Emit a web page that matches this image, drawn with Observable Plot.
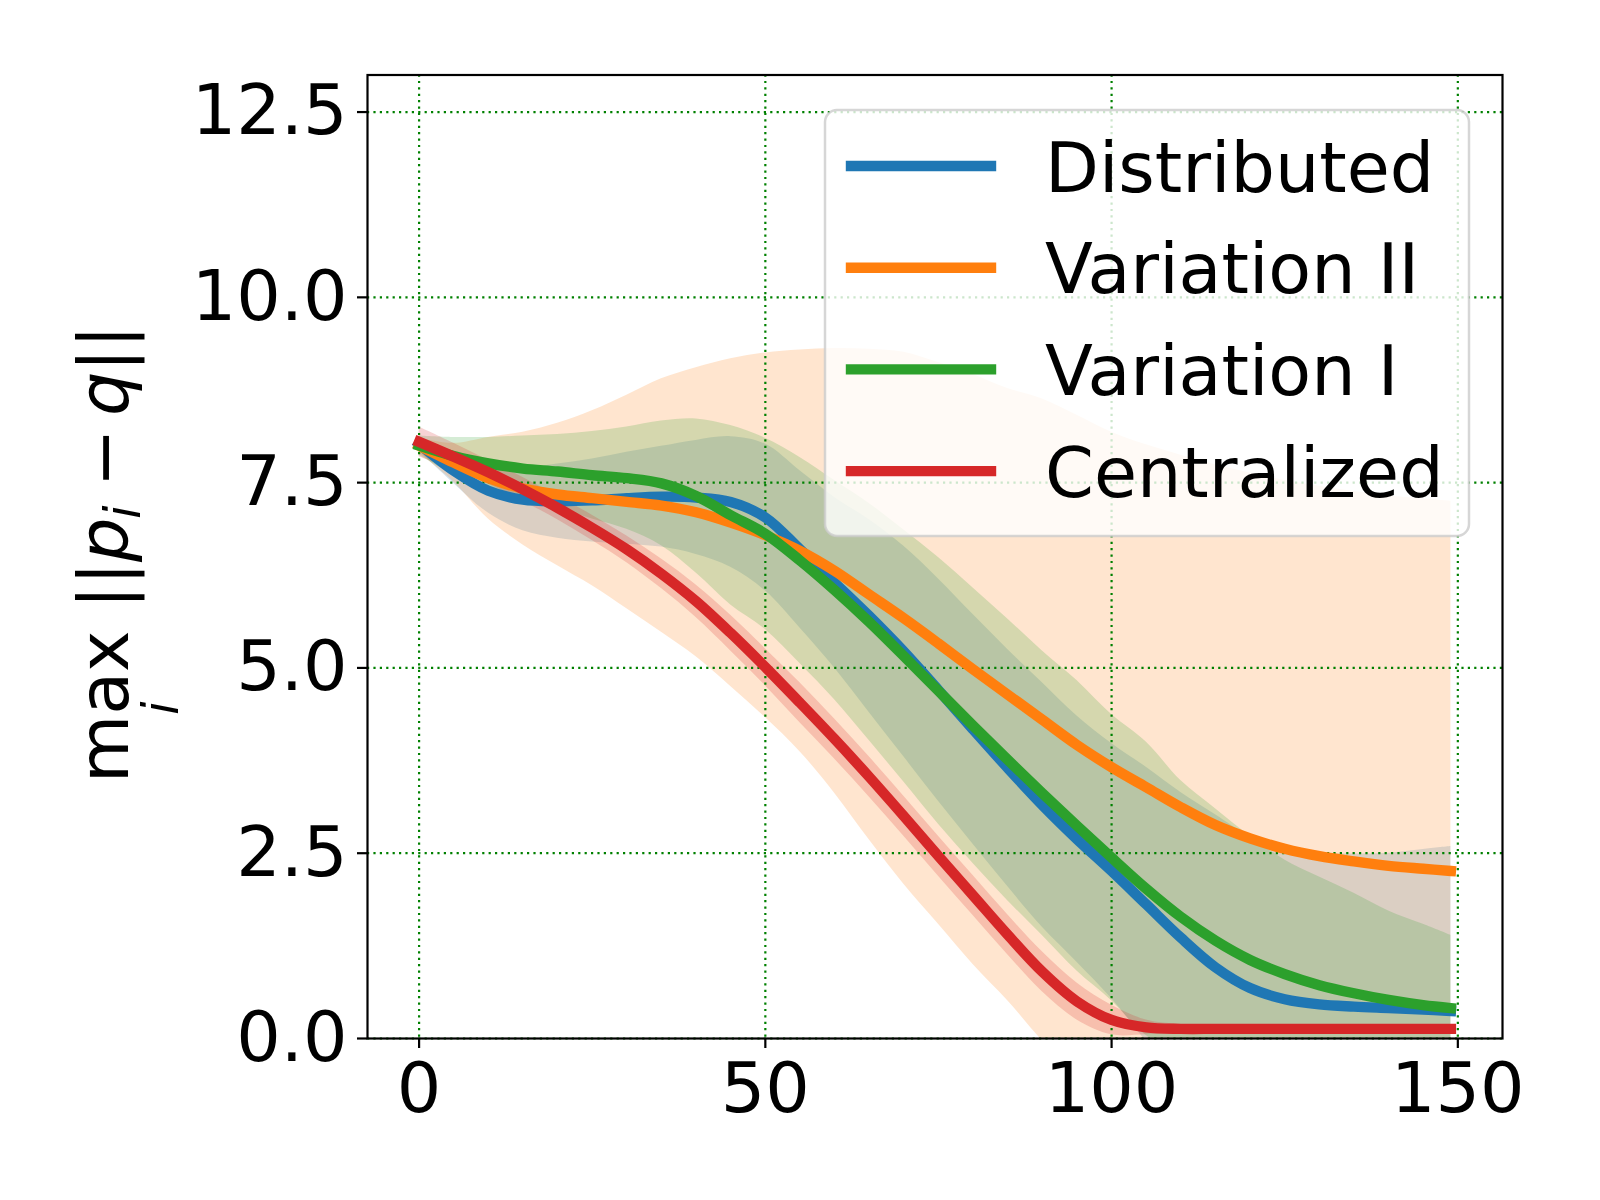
<!DOCTYPE html>
<html><head><meta charset="utf-8">
<script src="https://cdn.jsdelivr.net/npm/d3@7"></script>
<script src="https://cdn.jsdelivr.net/npm/@observablehq/plot@0.6"></script>
<style>html,body{margin:0;padding:0;background:#fff;} #chart svg{display:block;}</style>
</head><body><div id="chart"></div>
<script>
// ---- data ----
const steps = [0,5,10,15,20,25,30,35,40,45,50,55,60,65,70,75,80,85,90,95,100,105,110,115,120,125,130,135,140,145,149];
const seriesNames = ["Distributed","Variation II","Variation I","Centralized"];
const seriesColors = ["#1f77b4","#ff7f0e","#2ca02c","#d62728"];

const distributedMean = [8.02,7.66,7.39,7.27,7.25,7.26,7.29,7.31,7.30,7.24,7.03,6.60,6.15,5.70,5.22,4.70,4.17,3.65,3.15,2.69,2.26,1.81,1.36,0.96,0.68,0.53,0.46,0.43,0.41,0.39,0.37];
const distributedSd   = [0.09,0.17,0.30,0.42,0.50,0.56,0.62,0.68,0.77,0.88,0.99,1.06,1.15,1.30,1.42,1.50,1.55,1.60,1.65,1.66,1.72,1.85,1.96,2.06,2.05,2.06,2.04,2.06,2.09,2.16,2.22];

const variation2Mean = [8.00,7.77,7.56,7.42,7.34,7.29,7.24,7.19,7.10,6.96,6.79,6.58,6.31,5.99,5.67,5.33,4.98,4.64,4.30,3.96,3.66,3.39,3.12,2.88,2.70,2.56,2.46,2.39,2.33,2.29,2.26];
const variation2Sd   = [0.10,0.26,0.55,0.76,0.96,1.18,1.44,1.71,1.95,2.21,2.46,2.71,3.00,3.31,3.59,3.79,3.98,4.13,4.33,4.45,4.52,4.62,4.75,4.86,4.93,4.97,4.99,4.99,4.99,4.99,4.99];

const variation1Mean = [8.00,7.86,7.76,7.69,7.65,7.60,7.56,7.49,7.32,7.06,6.81,6.45,6.05,5.62,5.16,4.69,4.22,3.76,3.31,2.87,2.44,2.02,1.64,1.32,1.06,0.87,0.72,0.61,0.52,0.45,0.41];
const variation1Sd   = [0.13,0.25,0.35,0.44,0.50,0.59,0.69,0.84,1.04,1.21,1.29,1.39,1.48,1.60,1.70,1.80,1.86,1.90,1.92,1.96,1.93,1.98,1.84,1.78,1.67,1.54,1.46,1.35,1.20,1.09,0.98];

const centralizedMean = [8.05,7.85,7.64,7.41,7.16,6.89,6.60,6.27,5.90,5.47,5.01,4.53,4.04,3.53,3.00,2.46,1.93,1.40,0.90,0.50,0.25,0.15,0.13,0.13,0.13,0.13,0.13,0.13,0.13,0.13,0.13];
const centralizedSd   = [0.20,0.18,0.16,0.16,0.16,0.17,0.18,0.20,0.22,0.24,0.25,0.27,0.27,0.27,0.27,0.27,0.27,0.27,0.27,0.25,0.20,0.10,0.06,0.05,0.05,0.05,0.05,0.05,0.05,0.05,0.05];

const xTicks = [0,50,100,150];
const yTicks = [0,2.5,5,7.5,10,12.5];

// ---- table for Plot ----
const means = [distributedMean, variation2Mean, variation1Mean, centralizedMean];
const sds = [distributedSd, variation2Sd, variation1Sd, centralizedSd];
const rows = [];
seriesNames.forEach((name, k) => steps.forEach((s, j) => rows.push({
  series: name, step: s, mean: means[k][j],
  lo: means[k][j] - sds[k][j], hi: means[k][j] + sds[k][j]
})));

const gridStyle = {stroke: "#008000", strokeOpacity: 1, strokeWidth: 2.2, strokeDasharray: "2.2,4.2"};

const plot = Plot.plot({
  width: 1600, height: 1200,
  marginLeft: 367, marginRight: 98, marginTop: 74.5, marginBottom: 162,
  style: {fontFamily: "DejaVu Sans", fontSize: "70px", background: "white", color: "black"},
  x: {domain: [-7.45, 156.45]},
  y: {domain: [0, 13]},
  color: {domain: seriesNames, range: seriesColors},
  marks: [
    Plot.areaY(rows, {x: "step", y1: "lo", y2: "hi", fill: "series", fillOpacity: 0.2, curve: "catmull-rom", clip: true}),
    Plot.gridX(xTicks, gridStyle),
    Plot.gridY(yTicks, gridStyle),
    Plot.lineY(rows, {x: "step", y: "mean", stroke: "series", strokeWidth: 10.4, strokeLinecap: "square", strokeLinejoin: "round", curve: "catmull-rom"}),
    Plot.frame({stroke: "black", strokeWidth: 2.2}),
    Plot.axisX({ticks: xTicks, tickFormat: d => String(d), tickSize: 10, tickPadding: 14, fontSize: 70, strokeWidth: 2.2, label: null}),
    Plot.axisY({ticks: yTicks, tickFormat: d3.format(".1f"), tickSize: 10, tickPadding: 10, fontSize: 70, strokeWidth: 2.2, label: null})
  ]
});
document.getElementById("chart").appendChild(plot);

const svg = d3.select(plot);

// ---- y-axis label: max_i ||p_i − q|| ----
const lab = svg.append("text")
  .attr("transform", "translate(128,783) rotate(-90)")
  .attr("text-anchor", "start")
  .attr("font-family", "DejaVu Sans").attr("font-size", 70).attr("fill", "black");
const parts = [
  {t: "max", x: 0, y: 0},
  {t: "i", x: 68, y: 50, s: 49, it: true},
  {t: "||", x: 174, y: 0},
  {t: "p", x: 221, y: 0, it: true},
  {t: "i", x: 264, y: 12, s: 49, it: true},
  {t: "\u2212", x: 296, y: 0},
  {t: "q", x: 367, y: 0, it: true},
  {t: "||", x: 411, y: 0}
];
parts.forEach(p => {
  const ts = lab.append("tspan").attr("x", p.x).attr("y", p.y).attr("text-anchor", "start").text(p.t);
  if (p.s) ts.attr("font-size", p.s);
  if (p.it) ts.attr("font-style", "italic");
});

// ---- legend ----
const lg = svg.append("g").attr("text-anchor", "start");
lg.append("rect").attr("x", 825).attr("y", 110).attr("width", 644).attr("height", 426).attr("rx", 12)
  .attr("fill", "white").attr("fill-opacity", 0.8)
  .attr("stroke", "#cccccc").attr("stroke-opacity", 0.8).attr("stroke-width", 2.5);
seriesNames.forEach((name, k) => {
  const cy = 166 + k * 101.7;
  lg.append("line").attr("x1", 851).attr("x2", 991).attr("y1", cy).attr("y2", cy)
    .attr("stroke", seriesColors[k]).attr("stroke-width", 10.4).attr("stroke-linecap", "square");
  lg.append("text").attr("x", 1045).attr("y", cy + 25.5).attr("text-anchor", "start")
    .attr("font-family", "DejaVu Sans").attr("font-size", 70).attr("fill", "black").text(name);
});
</script>
</body></html>
